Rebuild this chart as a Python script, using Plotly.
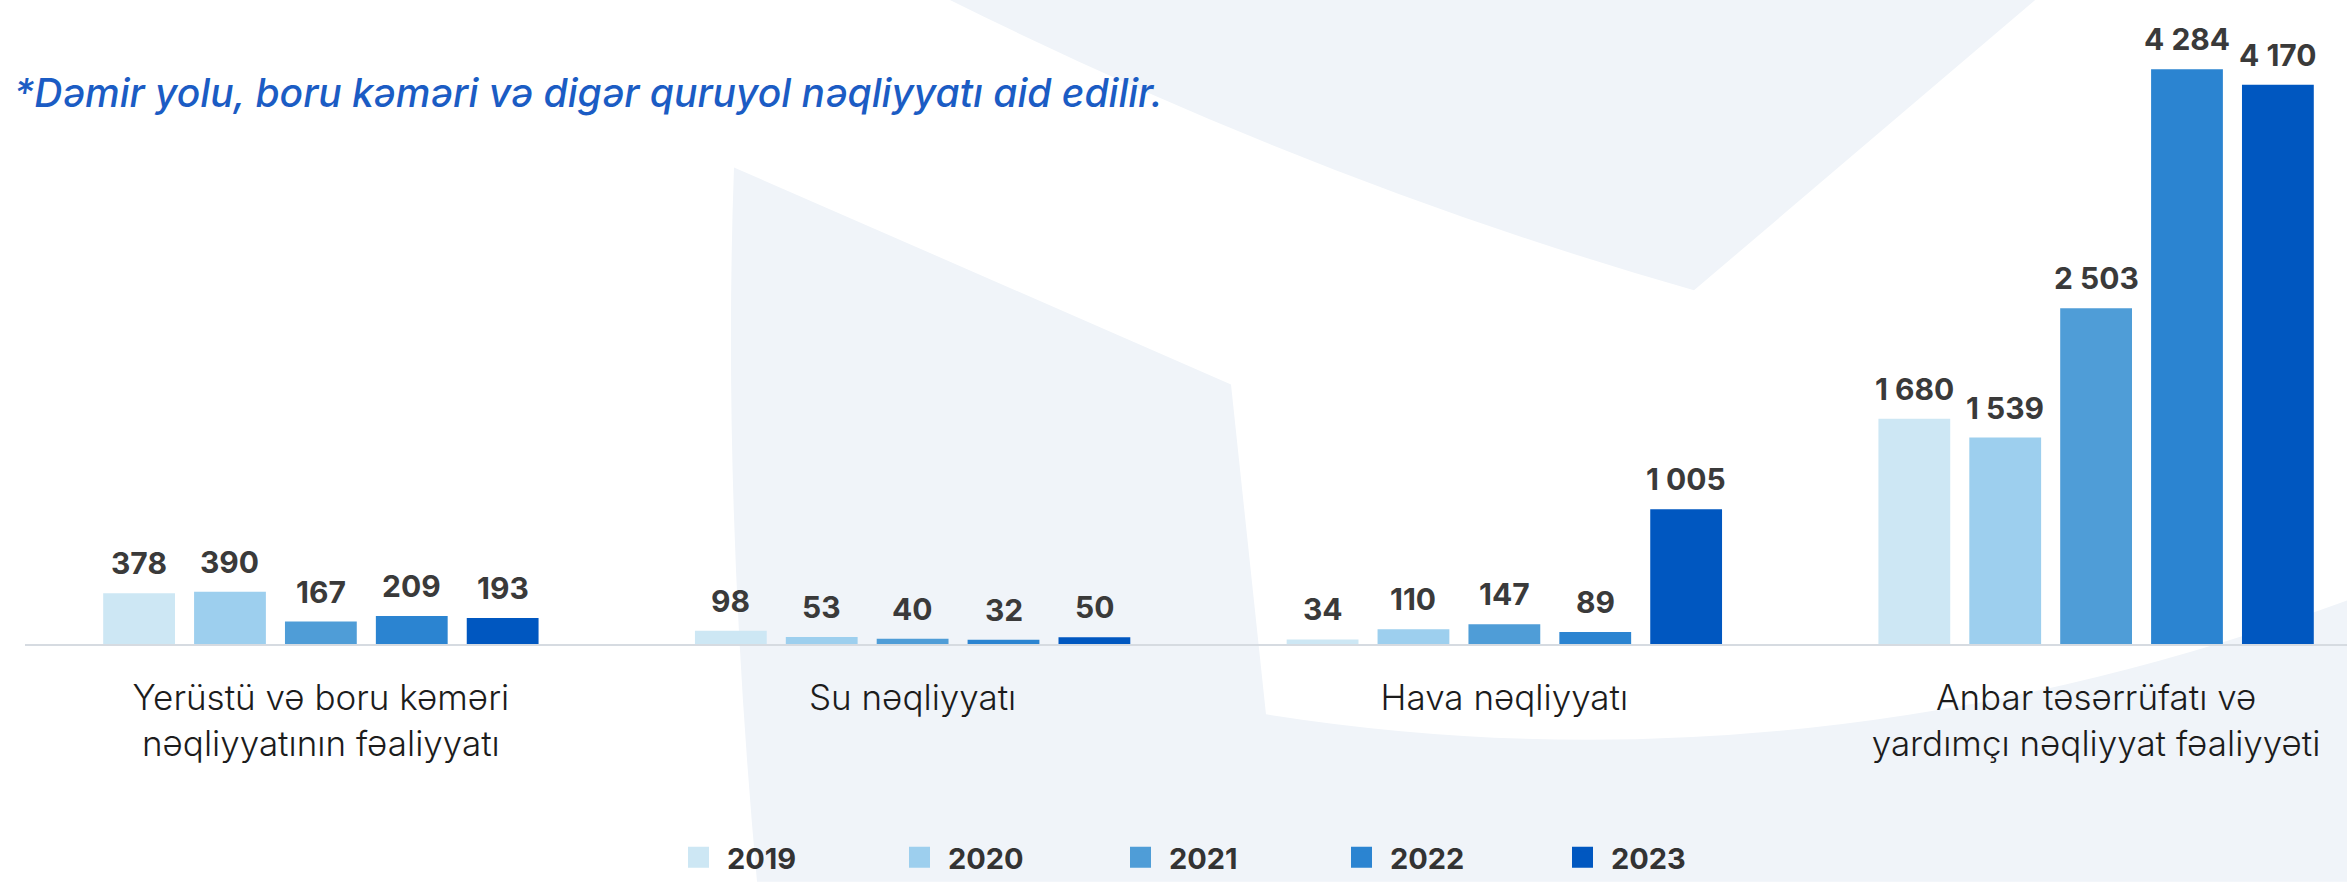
import plotly.graph_objects as go

categories = [
    "Yerüstü və boru kəməri<br>nəqliyyatının fəaliyyatı",
    "Su nəqliyyatı",
    "Hava nəqliyyatı",
    "Anbar təsərrüfatı və<br>yardımçı nəqliyyat fəaliyyəti",
]
years = ["2019", "2020", "2021", "2022", "2023"]
v2019 = [378, 98, 34, 1680]
v2020 = [390, 53, 110, 1539]
v2021 = [167, 40, 147, 2503]
v2022 = [209, 32, 89, 4284]
v2023 = [193, 50, 1005, 4170]
series = [v2019, v2020, v2021, v2022, v2023]
colors = ["#cde7f4", "#9dcfee", "#4f9dd7", "#2b84d1", "#0057c0"]
subtitle = "*Dəmir yolu, boru kəməri və digər quruyol nəqliyyatı aid edilir."

W, H = 2347, 883
ML, MR, MT, MB = 25, 0, 0, 233
PW, PH = W - ML - MR, H - MT - MB
BARGAP, BARGROUPGAP = 0.232, 0.21
YMAX = 4801
FONT = "Inter"

def fmt(v):
    return f"{v:,}".replace(",", " ")

def px(x, y):
    return ((x - ML) / PW, (PH + MT - y) / PH)

fig = go.Figure()
for name, vals, col in zip(years, series, colors):
    fig.add_trace(go.Bar(x=categories, y=vals, name=name, marker_color=col,
                         marker_line_width=0, showlegend=False, hoverinfo="skip"))
# legend entries
for name, col in zip(years, colors):
    fig.add_trace(go.Scatter(x=[None], y=[None], mode="markers", name=name,
                             marker=dict(symbol="square", size=16, color=col,
                                         line=dict(width=5, color=col)),
                             showlegend=True))

# value labels via annotations at bar tops
n = len(series)
slot = (1 - BARGAP) / n
annotations = []
for i, vals in enumerate(series):
    for j, v in enumerate(vals):
        annotations.append(dict(
            x=j + (i - (n - 1) / 2) * slot, y=v, xref="x", yref="y",
            text=fmt(v), showarrow=False, yanchor="bottom", yshift=10,
            font=dict(family=FONT, size=30, color="#3a3a3a", weight="bold")))

sx, sy = px(12, 93)
annotations.append(dict(x=sx, y=sy, xref="paper", yref="paper", xanchor="left",
                        yanchor="middle", showarrow=False, text=subtitle,
                        font=dict(family=FONT, size=39, color="#1b5cc4",
                                  style="italic", weight=500)))

def path(cmds):
    out = []
    for c in cmds:
        if isinstance(c, str):
            out.append(c)
        else:
            x, y = px(*c)
            out.append(f"{x:.5f},{y:.5f}")
    return " ".join(out)

bg = "#f0f4f9"
shapes = [
    dict(type="path", xref="paper", yref="paper", layer="below", line_width=0, fillcolor=bg,
         path=path(["M", (940, -5), "Q", (1315, 184), (1694, 293), "L", (2041, -5), "Z"])),
    dict(type="path", xref="paper", yref="paper", layer="below", line_width=0, fillcolor=bg,
         path=path(["M", (734, 169), "L", (1231, 388), "L", (1266, 721), "Q", (1805, 807), (2350, 605),
                    "L", (2350, 890), "L", (757, 890), "Q", (722, 500), (734, 169), "Z"])),
]

lx, ly = px(670, 866)
fig.update_layout(
    width=W, height=H,
    margin=dict(l=ML, r=MR, t=MT, b=MB, pad=0),
    paper_bgcolor="#ffffff", plot_bgcolor="rgba(0,0,0,0)",
    barmode="group", bargap=BARGAP, bargroupgap=BARGROUPGAP,
    font=dict(family=FONT),
    xaxis=dict(type="category", range=[-0.5, 3.424], showline=True, linecolor="#d6dbe1",
               linewidth=2, showgrid=False, zeroline=False, ticks="",
               ticklabelstandoff=22,
               tickfont=dict(family=FONT, size=35, color="#1c1c1c", weight=300)),
    yaxis=dict(range=[0, YMAX], visible=False),
    showlegend=True,
    legend=dict(orientation="h", x=lx, y=ly, xanchor="left", yanchor="middle",
                xref="paper", yref="paper", entrywidth=159, itemwidth=47,
                bgcolor="rgba(0,0,0,0)",
                font=dict(family=FONT, size=29, color="#333333", weight="bold")),
    annotations=annotations,
    shapes=shapes,
)

fig.write_html("out.html", config={"displayModeBar": False},
               post_script="document.body.style.margin='0';document.body.style.overflow='hidden';")
